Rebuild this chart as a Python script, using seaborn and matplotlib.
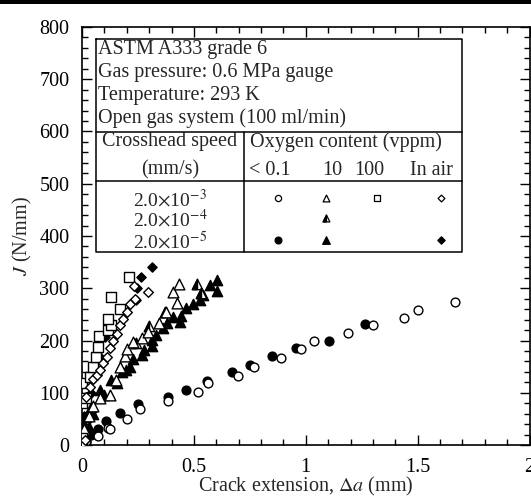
import numpy as np
import pandas as pd
import matplotlib
matplotlib.use("Agg")
import matplotlib.pyplot as plt
import seaborn as sns
from matplotlib.patches import Rectangle
from matplotlib.ticker import MultipleLocator
from matplotlib.path import Path

# ---------------- data ----------------
# < 0.1 vppm, 2.0e-3 mm/s (open circles)
oc_x = [0.0, 0.02, 0.07, 0.115, 0.124, 0.2, 0.26, 0.385, 0.52, 0.565, 0.695, 0.77, 0.89, 0.98, 1.035, 1.19, 1.30, 1.44, 1.50, 1.665]
oc_y = [0, 8, 18, 33, 30, 50, 68, 84, 101, 118, 133, 150, 167, 183, 200, 215, 229, 243, 259, 273]
# < 0.1 vppm, 2.0e-5 mm/s (filled circles)
fc_x = [0.02, 0.04, 0.071, 0.108, 0.17, 0.25, 0.383, 0.463, 0.56, 0.67, 0.75, 0.851, 0.958, 1.103, 1.263]
fc_y = [5, 20, 31, 45, 62, 78, 92, 106, 123, 139, 154, 170, 186, 200, 231]
# 10 vppm, 2.0e-3 mm/s (open triangles)
ot_x = [0.01, 0.03, 0.05, 0.08, 0.125, 0.15, 0.17, 0.19, 0.2, 0.23, 0.266, 0.296, 0.345, 0.375, 0.408, 0.426, 0.434]
ot_y = [30, 55, 75, 90, 95, 125, 150, 170, 183, 198, 204, 217, 233, 255, 292, 271, 309]
# 10 vppm, 2.0e-4 mm/s (half-filled triangles)
ht_x = [0.515, 0.531, 0.37, 0.30, 0.24]
ht_y = [309, 290, 255, 228, 195]
# 10 vppm, 2.0e-5 mm/s (filled triangles)
ft_x = [0.0, 0.012, 0.019, 0.03, 0.042, 0.05, 0.079, 0.10, 0.131, 0.155, 0.177, 0.198, 0.214, 0.23, 0.266, 0.277,
        0.315, 0.311, 0.33, 0.363, 0.378, 0.408, 0.4375, 0.442, 0.464, 0.494, 0.527, 0.539, 0.571, 0.604, 0.604]
ft_y = [41, 16, 54, 35, 73, 60, 105, 95, 124, 118, 140, 143, 150, 165, 172, 182,
        189, 201, 210, 223, 233, 245, 236, 247, 263, 269, 278, 287, 306, 294, 315]
# 100 vppm, 2.0e-3 mm/s (open squares)
sq_x = [0.0, 0.0, 0.0, 0.0, 0.016, 0.036, 0.05, 0.064, 0.071, 0.075, 0.116, 0.131, 0.117, 0.168, 0.131, 0.208]
sq_y = [5, 13, 80, 118, 89, 131, 150, 169, 187, 208, 220, 229, 242, 261, 284, 322]
# In air, 2.0e-3 mm/s (open diamonds)
od_x = [0.0, 0.013, 0.02, 0.036, 0.05, 0.066, 0.08, 0.095, 0.11, 0.125, 0.14, 0.155, 0.17, 0.185, 0.2, 0.214, 0.232, 0.237, 0.296]
od_y = [0, 10, 92, 111, 127, 134, 143, 156, 169, 185, 200, 213, 229, 242, 255, 269, 304, 279, 293]
# In air, 2.0e-5 mm/s (filled diamonds)
fd_x = [0.0, 0.01, 0.04, 0.08, 0.105, 0.24, 0.247, 0.262, 0.314]
fd_y = [40, 55, 100, 169, 207, 278, 300, 322, 340]

info_lines = ["ASTM A333 grade 6", "Gas pressure: 0.6 MPa gauge",
              "Temperature: 293 K", "Open gas system (100 ml/min)"]
oxygen_labels = ["< 0.1", "10", "100", "In air"]
speed_labels = [r"2.0$\times$10$^{-3}$", r"2.0$\times$10$^{-4}$", r"2.0$\times$10$^{-5}$"]

# ---------------- style ----------------
sns.set_theme(style="ticks")
plt.rcParams['font.family'] = ['Liberation Serif', 'DejaVu Serif']
plt.rcParams['mathtext.fontset'] = 'stix'
FS = 14.5

fig = plt.figure(figsize=(5.31, 4.98), dpi=100)
ax = fig.add_axes([82 / 531, 1 - 445 / 498, 447.5 / 531, 418 / 498])

half_tri = Path([(0, 1), (-1, -1), (0, -1), (0, 1)], [Path.MOVETO, Path.LINETO, Path.LINETO, Path.CLOSEPOLY])

def sc(x, y, marker, s, filled, **kw):
    sns.scatterplot(x=x, y=y, marker=marker, s=s, color="black" if filled else "white",
                    edgecolor="black", linewidth=1.0, ax=ax, legend=False, zorder=3, **kw)

# filled series first, open on top
sc(fc_x, fc_y, "o", 40, True)
sc(ft_x, ft_y, "^", 55, True)
sc(fd_x, fd_y, "D", 22, True)
sc(ht_x, ht_y, "^", 55, False)
sc(ht_x, ht_y, half_tri, 55, True)
sc(oc_x, oc_y, "o", 40, False)
sc(ot_x, ot_y, "^", 60, False)
sc(sq_x, sq_y, "s", 55, False)
sc(od_x, od_y, "D", 24, False)

ax.set_xlim(0, 2)
ax.set_ylim(0, 800)
ax.xaxis.set_major_locator(MultipleLocator(0.5))
ax.xaxis.set_minor_locator(MultipleLocator(0.1))
ax.yaxis.set_major_locator(MultipleLocator(100))
ax.yaxis.set_minor_locator(MultipleLocator(20))
ax.set_xticks([0, 0.5, 1, 1.5, 2])
ax.set_xticklabels(["0", "0.5", "1", "1.5", "2"])
ax.tick_params(which="both", direction="in", top=True, right=True, width=1.0, colors="black",
               labelsize=FS)
ax.tick_params(axis="x", which="major", length=7, pad=9)
ax.tick_params(axis="y", which="major", length=7, pad=9)
ax.tick_params(which="minor", length=4)
for sp in ax.spines.values():
    sp.set_linewidth(1.2)
    sp.set_color("black")
ax.set_xlabel(r"Crack extension, $\Delta a$ (mm)", fontsize=FS, labelpad=-1)
ax.set_ylabel(r"$J$ (N/mm)", fontsize=FS, labelpad=4)

# ---------------- table box ----------------
xl, xr, xd = 0.061, 1.70, 0.7245
yt, y1, y2, yb = 777.5, 599, 504.7, 369.5
lw = 1.1
ax.plot([xl, xr, xr, xl, xl], [yt, yt, yb, yb, yt], color="black", lw=lw, zorder=2)
ax.plot([xl, xr], [y1, y1], color="black", lw=lw, zorder=2)
ax.plot([xl, xr], [y2, y2], color="black", lw=lw, zorder=2)
ax.plot([xd, xd], [y1, yb], color="black", lw=lw, zorder=2)

for i, t in enumerate(info_lines):
    ax.text(0.072, 756 - i * 43.7, t, fontsize=FS, va="center", ha="left")
ax.text((xl + xd) / 2, 580, "Crosshead speed", fontsize=FS, ha="center", va="center")
ax.text((xl + xd) / 2, 526, "(mm/s)", fontsize=FS, ha="center", va="center")
ax.text(1.18, 580, "Oxygen content (vppm)", fontsize=FS, ha="center", va="center")
ox_pos = [0.84, 1.118, 1.286, 1.5625]
for xp, t in zip(ox_pos, oxygen_labels):
    ax.text(xp, 526, t, fontsize=FS, ha="center", va="center")
row_y = [469, 431, 389]
for yp, t in zip(row_y, speed_labels):
    ax.text((xl + xd) / 2, yp, t, fontsize=14, ha="center", va="center")

mk_x = [0.874, 1.092, 1.32, 1.603]
mrow = [473, 434, 392]
ax.scatter([mk_x[0]], [mrow[0]], marker="o", s=20, facecolor="white", edgecolor="black", lw=0.9, zorder=3)
ax.scatter([mk_x[1]], [mrow[0]], marker="^", s=24, facecolor="white", edgecolor="black", lw=0.9, zorder=3)
ax.scatter([mk_x[2]], [mrow[0]], marker="s", s=22, facecolor="white", edgecolor="black", lw=0.9, zorder=3)
ax.scatter([mk_x[3]], [mrow[0]], marker="D", s=12, facecolor="white", edgecolor="black", lw=0.9, zorder=3)
ax.scatter([mk_x[1]], [mrow[1]], marker="^", s=24, facecolor="white", edgecolor="black", lw=0.9, zorder=3)
ax.scatter([mk_x[1]], [mrow[1]], marker=half_tri, s=24, facecolor="black", edgecolor="black", lw=0.9, zorder=3)
ax.scatter([mk_x[0]], [mrow[2]], marker="o", s=24, facecolor="black", edgecolor="black", lw=0.9, zorder=3)
ax.scatter([mk_x[1]], [mrow[2]], marker="^", s=30, facecolor="black", edgecolor="black", lw=0.9, zorder=3)
ax.scatter([mk_x[3]], [mrow[2]], marker="D", s=14, facecolor="black", edgecolor="black", lw=0.9, zorder=3)

# top border band of the figure
fig.patches.append(Rectangle((0, 1 - 4 / 498), 1, 4 / 498, transform=fig.transFigure,
                             facecolor="black", edgecolor="none"))

fig.savefig("out.png", dpi=100)
